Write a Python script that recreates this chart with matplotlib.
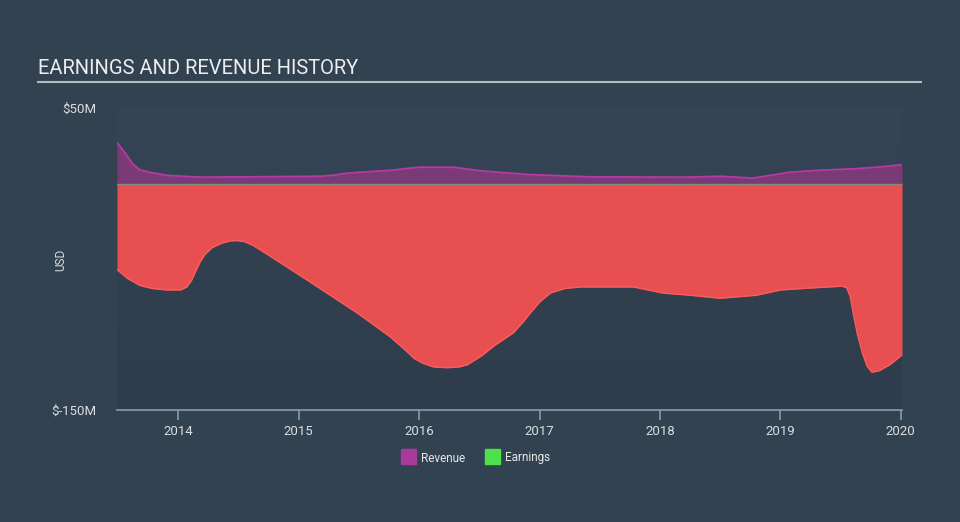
import numpy as np
import matplotlib.pyplot as plt
from matplotlib.colors import LinearSegmentedColormap

# values in $M
rev_years = [2013.49, 2013.55, 2013.62, 2013.68, 2013.77, 2013.91, 2014.18, 2014.74, 2015.18,
             2015.29, 2015.40, 2015.51, 2015.78, 2015.90, 2016.01, 2016.28, 2016.40, 2016.51,
             2016.90, 2017.42, 2018.22, 2018.50, 2018.77, 2018.95, 2019.08, 2019.33, 2019.60,
             2019.80, 2020.01]
revenue = [27, 21, 13, 9, 7.3, 5.3, 4.2, 4.5, 4.8,
           5.5, 6.8, 7.5, 8.8, 10.0, 10.8, 10.8, 9.6, 8.4,
           6, 4.4, 4.2, 4.8, 3.6, 5.8, 7.5, 8.8, 9.7,
           10.8, 12.4]

earn_years = [2013.49, 2013.58, 2013.68, 2013.78, 2013.90, 2014.02, 2014.07, 2014.11,
              2014.15, 2014.18, 2014.22, 2014.28, 2014.36, 2014.43, 2014.49, 2014.55,
              2014.62, 2014.74, 2015.07, 2015.49, 2015.76, 2015.88, 2015.96, 2016.03,
              2016.12, 2016.23, 2016.33, 2016.40, 2016.52, 2016.63, 2016.78, 2016.86,
              2016.92, 2017.00, 2017.09, 2017.21, 2017.34, 2017.78, 2017.90, 2018.02,
              2018.25, 2018.50, 2018.80, 2019.00, 2019.25, 2019.51, 2019.55, 2019.58,
              2019.61, 2019.64, 2019.68, 2019.72, 2019.76, 2019.82, 2019.91, 2020.01]
earnings = [-57, -63, -67.5, -69.5, -70.5, -70.5, -68.5, -64,
            -57, -52, -47, -42.5, -39.5, -38, -37.8, -38.5,
            -41, -47, -64, -86, -101.6, -110, -116, -119,
            -121.5, -122, -121.5, -120, -114, -107, -99, -92,
            -86, -78.5, -72.5, -69.5, -68.5, -68.5, -70.5, -72.5,
            -74, -76, -74, -70.5, -69.2, -68, -69, -75,
            -88, -100, -112, -121, -125, -124, -120, -113.5]

year_ticks = [2014, 2015, 2016, 2017, 2018, 2019, 2020]

bg = '#334250'
fig = plt.figure(figsize=(9.6, 5.22), dpi=100)
fig.patch.set_facecolor(bg)

ax = fig.add_axes([117 / 960, 1 - 410 / 522, 785 / 960, 302 / 522])
ax.set_xlim(2013.49, 2020.01)
ax.set_ylim(-150, 50)

# plot area background, slightly darker towards the bottom
grad = np.linspace(0, 1, 256).reshape(-1, 1)
ax.imshow(grad, extent=[2013.49, 2020.01, -150, 50], aspect='auto', zorder=0,
          cmap=LinearSegmentedColormap.from_list('bg', ['#2e3c4b', '#354555']),
          origin='lower', interpolation='bilinear')

ax.fill_between(rev_years, 0, revenue, color='#7a3a76', zorder=2, lw=0)
ax.plot(rev_years, revenue, color='#b53aa6', lw=1.3, zorder=3)
ax.fill_between(earn_years, 0, earnings, color='#e84f51', zorder=2, lw=0)
ax.plot(earn_years, earnings, color='#ff5a5c', lw=1.0, zorder=3)
ax.axhline(0, color='#7c8f7a', lw=1.0, zorder=4)

for s in ['top', 'right', 'left']:
    ax.spines[s].set_visible(False)
ax.spines['bottom'].set_color('#8b9aab')
ax.spines['bottom'].set_linewidth(1.2)

ax.set_xticks(year_ticks)
ax.set_xticklabels([str(y) for y in year_ticks], family='Roboto', fontsize=9.5, color='#d8dde2')
ax.tick_params(axis='x', length=7, width=1.2, color='#8b9aab', pad=4)

ax.set_yticks([50, -150])
ax.set_yticklabels(['$50M', '$-150M'], family='Roboto', fontsize=9.5, color='#d8dde2')
ax.tick_params(axis='y', length=0, pad=15)
fig.text(61 / 960, 1 - 260 / 522, 'USD', family='Roboto', fontsize=8.5, color='#d8dde2',
         rotation=90, ha='center', va='center')

fig.text(38 / 960, 1 - 68 / 522, 'EARNINGS AND REVENUE HISTORY', family='Roboto',
         fontsize=14.5, color='#eceef0', va='center', ha='left')
fig.add_artist(plt.Line2D([38 / 960, 921 / 960], [1 - 82 / 522, 1 - 82 / 522],
                          color='#b4bac0', lw=1.5))

# legend
fig.patches.append(plt.Rectangle((401 / 960, 1 - 464 / 522), 15 / 960, 15 / 522,
                                 transform=fig.transFigure, color='#a83a9c'))
fig.text(421 / 960, 1 - 458 / 522, 'Revenue', family='Roboto', fontsize=8.5,
         color='#e6e8ea', va='center')
fig.patches.append(plt.Rectangle((485 / 960, 1 - 464 / 522), 15 / 960, 15 / 522,
                                 transform=fig.transFigure, color='#4de24c'))
fig.text(505 / 960, 1 - 458 / 522, 'Earnings', family='Roboto', fontsize=8.5,
         color='#e6e8ea', va='center')

fig.savefig('out.png', dpi=100, facecolor=bg)
